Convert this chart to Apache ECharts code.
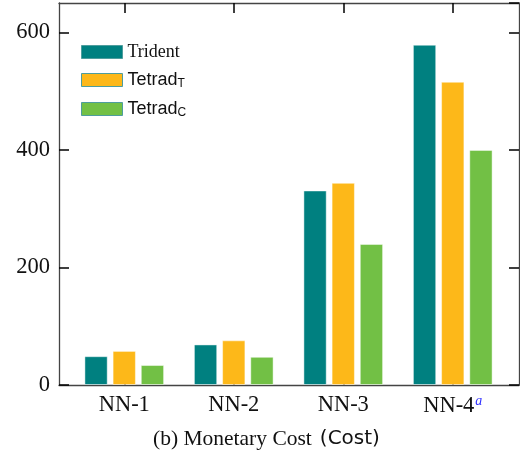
<!DOCTYPE html>
<html>
<head>
<meta charset="utf-8">
<script src="https://cdn.jsdelivr.net/npm/echarts@6/dist/echarts.min.js"></script>
<style>html,body{margin:0;padding:0;background:#fff}#c{width:520px;height:456px}</style>
</head>
<body>
<div id="c"></div>
<script>
const categories = ['NN-1', 'NN-2', 'NN-3', 'NN-4'];
const seriesNames = ['Trident', 'Tetrad_T', 'Tetrad_C'];
const trident = [49, 69, 331, 579];
const tetradT = [58, 76, 344, 516];
const tetradC = [34, 48, 240, 400];
const yTickStep = 200;
const colors = ['#008080', '#FDB819', '#72C045'];

const chart = echarts.init(document.getElementById('c'), null, {renderer: 'canvas'});
const serif = 'Liberation Serif';
const sans = 'Liberation Sans';
const yMax = 650;

const values = [trident, tetradT, tetradC];
const series = seriesNames.map((n, i) => ({
  name: n,
  type: 'bar',
  xAxisIndex: 2,
  yAxisIndex: 2,
  data: values[i],
  barWidth: 23.3,
  barGap: '21%',
  itemStyle: {color: colors[i], borderColor: 'rgba(255,255,255,0.45)', borderWidth: 1}
}));

chart.setOption({
  animation: false,
  backgroundColor: '#fff',
  title: {
    text: '{a|(b) Monetary Cost}{b|(Cost)}',
    left: 153, top: 428, padding: 0,
    textStyle: {
      fontWeight: 'normal',
      rich: {
        a: {fontFamily: serif, fontSize: 21.5, fontWeight: 'normal', color: '#111'},
        b: {fontFamily: 'DejaVu Sans', fontSize: 20, fontWeight: 'normal', color: '#111', padding: [0, 0, 0, 8]}
      }
    }
  },
  legend: {
    orient: 'vertical',
    left: 81, top: 43, padding: 0,
    icon: 'rect',
    itemWidth: 41, itemHeight: 13, itemGap: 10,
    data: seriesNames,
    itemStyle: {borderColor: '#4e9d9d', borderWidth: 1},
    formatter: function (n) {
      if (n === 'Trident') return '{t|Trident}';
      const p = n.split('_');
      return '{s|' + p[0] + '}{sub|' + p[1] + '}';
    },
    textStyle: {
      rich: {
        t: {fontFamily: serif, fontSize: 18, color: '#111'},
        s: {fontFamily: sans, fontSize: 18, color: '#111'},
        sub: {fontFamily: sans, fontSize: 12, color: '#111', padding: [8, 0, 0, 0]}
      }
    }
  },
  grid: [
    {left: 59, right: 1, top: 3, bottom: 71},
    {left: 69.5, right: 12.5, top: 3, bottom: 71}
  ],
  xAxis: [
    {gridIndex: 0, type: 'value', min: 0, max: 1, position: 'bottom',
      axisLine: {show: true, onZero: false, lineStyle: {color: '#444', width: 1.3}},
      axisTick: {show: false}, axisLabel: {show: false}, splitLine: {show: false}},
    {gridIndex: 0, type: 'value', min: 0, max: 1, position: 'top',
      axisLine: {show: true, onZero: false, lineStyle: {color: '#444', width: 1.3}},
      axisTick: {show: false}, axisLabel: {show: false}, splitLine: {show: false}},
    {gridIndex: 1, type: 'category', data: categories, position: 'bottom',
      axisLine: {show: false, onZero: false},
      axisTick: {show: true, inside: true, alignWithLabel: true, length: 10, lineStyle: {color: '#000', width: 1.5}},
      axisLabel: {
        margin: 9,
        formatter: function (v) { return v === 'NN-4' ? '{n|NN-4}{sup|a}' : '{n|' + v + '}'; },
        rich: {
          n: {fontFamily: serif, fontSize: 22.5, color: '#111'},
          sup: {fontFamily: serif, fontStyle: 'italic', fontSize: 14, color: '#3333ff', padding: [0, 0, 10, 1]}
        }
      },
      splitLine: {show: false}},
    {gridIndex: 1, type: 'category', data: categories, position: 'top',
      axisLine: {show: false, onZero: false},
      axisTick: {show: true, inside: true, alignWithLabel: true, length: 10, lineStyle: {color: '#000', width: 1.5}},
      axisLabel: {show: false}, splitLine: {show: false}}
  ],
  yAxis: [
    {gridIndex: 0, type: 'value', min: 0, max: yMax, interval: yTickStep, position: 'left',
      axisLine: {show: true, onZero: false, lineStyle: {color: '#444', width: 1.3}},
      axisTick: {show: true, inside: true, length: 10, lineStyle: {color: '#000', width: 1.5}},
      axisLabel: {inside: false, showMaxLabel: false, margin: 9, fontFamily: serif, fontSize: 22.5, color: '#111'},
      splitLine: {show: false}},
    {gridIndex: 0, type: 'value', min: 0, max: yMax, interval: yTickStep, position: 'right',
      axisLine: {show: true, onZero: false, lineStyle: {color: '#444', width: 1.3}},
      axisTick: {show: true, inside: true, length: 10, lineStyle: {color: '#000', width: 1.5}},
      axisLabel: {show: false}, splitLine: {show: false}},
    {gridIndex: 1, type: 'value', min: 0, max: yMax, show: false, splitLine: {show: false}}
  ],
  series: series
});
</script>
</body>
</html>
